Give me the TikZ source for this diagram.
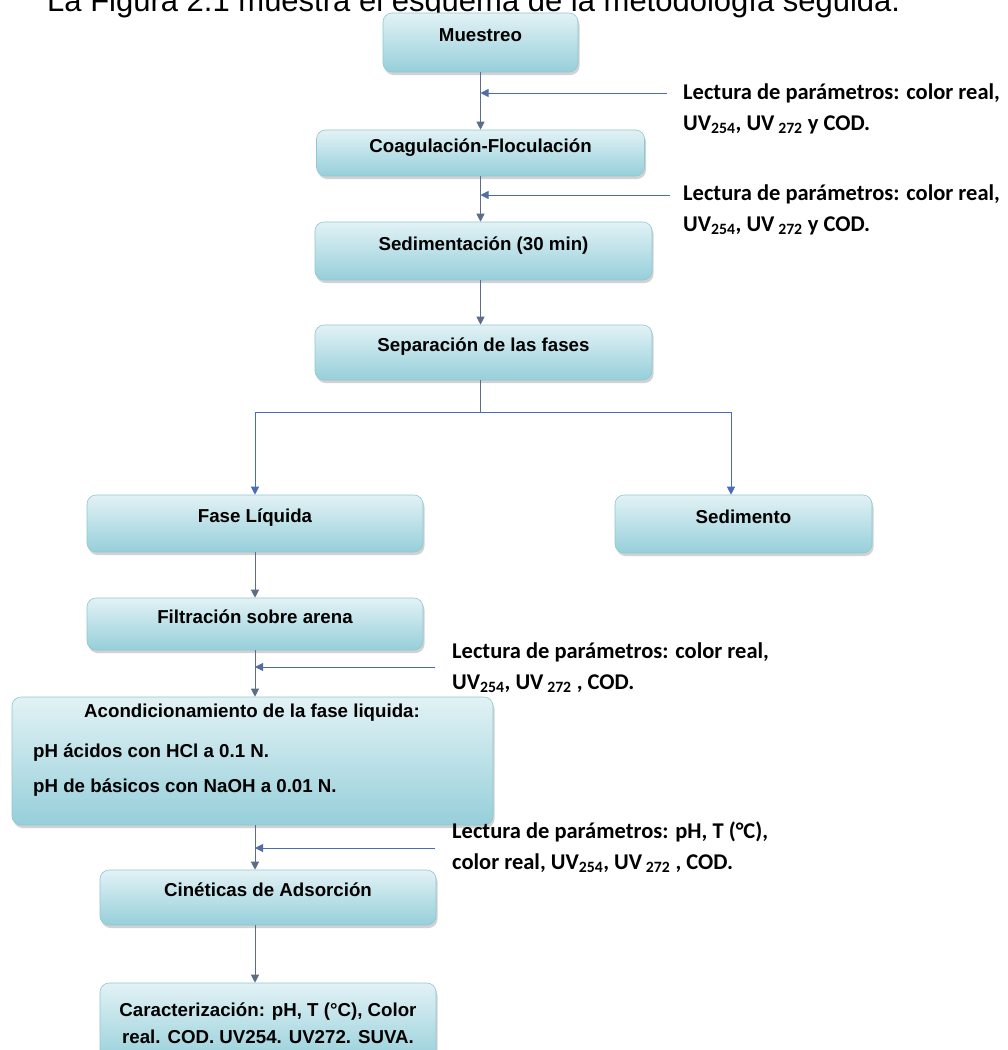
\documentclass[tikz,border=0pt]{standalone}
\usepackage{fontspec}
\setmainfont{Liberation Sans}
\newfontfamily\lecfont{Carlito}
\usetikzlibrary{arrows.meta,shadows}
\definecolor{boxtop}{HTML}{E2F2F5}
\definecolor{boxmid}{HTML}{C6E6EC}
\definecolor{boxbot}{HTML}{96CFDA}
\definecolor{boxedge}{HTML}{8FC7D2}
\definecolor{linegray}{HTML}{5C6D88}
\definecolor{lineblue}{HTML}{4A6DB5}
\tikzset{
  boxs/.style={rounded corners=9pt, draw=boxedge, line width=0.6pt,
    top color=boxtop, middle color=boxmid, bottom color=boxbot,
    drop shadow={shadow xshift=1.5pt, shadow yshift=-3pt, opacity=.35, fill=gray},
    inner sep=0pt, font=\fontsize{18.7}{27}\selectfont\bfseries},
  onel/.style={boxs, text height=13pt, text depth=15pt},
  btext/.style={inner sep=0pt, font=\fontsize{18.7}{27}\selectfont\bfseries},
  lec/.style={inner sep=0pt, anchor=base west, font=\lecfont\bfseries\fontsize{22.5}{31}\selectfont},
  arr/.style={draw=linegray, line width=0.9pt, -{Triangle[width=8pt,length=8pt]}},
  feed/.style={draw=lineblue, line width=0.9pt, -{Triangle[width=8pt,length=8pt,fill=linegray]}},
  vline/.style={draw=linegray, line width=0.9pt},
}
\begin{document}
\begin{tikzpicture}[x=1pt,y=-1pt]
\fill[white] (0,0) rectangle (1008,1050);
\useasboundingbox (0,0) rectangle (1008,1050);

% title line (cut at the top, as in the source page)
\node[inner sep=0pt, anchor=base west, font=\fontsize{31}{34}\selectfont] (title) at (47,11)
  {La Figura 2.1 muestra el esquema de la metodología seguida.};

% boxes
\node[onel, minimum width=195pt, minimum height=59pt] (mue) at (480.5,42.5) {Muestreo};
\node[onel, minimum width=328pt, minimum height=46pt] (coag) at (480.5,153) {Coagulación-Floculación};
\node[onel, minimum width=337pt, minimum height=58pt] (sed) at (483.5,251) {Sedimentación (30 min)};
\node[onel, minimum width=337pt, minimum height=55pt] (sep) at (483.5,352.5) {Separación de las fases};
\node[onel, minimum width=336pt, minimum height=57pt] (fase) at (255,523.5) {Fase Líquida};
\node[onel, minimum width=257pt, minimum height=58pt] (sedm) at (743.5,524) {Sedimento};
\node[onel, minimum width=336pt, minimum height=52pt] (filt) at (255,624) {Filtración sobre arena};
\node[boxs, minimum width=481pt, minimum height=128pt] (acond) at (252.5,761) {};
\node[btext] (ac1) at (252,713) {Acondicionamiento de la fase liquida:};
\node[btext, anchor=west] (ac2) at (33,753) {pH ácidos con HCl a 0.1 N.};
\node[btext, anchor=west] (ac3) at (33,788) {pH de básicos con NaOH a 0.01 N.};
\node[onel, minimum width=336pt, minimum height=55pt] (cin) at (268,897.5) {Cinéticas de Adsorción};
\node[boxs, align=center, minimum width=336pt, minimum height=80pt] (car) at (268,1023)
  {Caracterización: pH, T (°C), Color\\real. COD. UV254. UV272. SUVA.};

% labels
\node[lec] (lec1) at (683,99.5) {\begin{tabular}[t]{@{}l@{}}Lectura de parámetros: color real,\\UV\textsubscript{254}, UV\,\textsubscript{272} y COD.\end{tabular}};
\node[lec] (lec2) at (683,200) {\begin{tabular}[t]{@{}l@{}}Lectura de parámetros: color real,\\UV\textsubscript{254}, UV\,\textsubscript{272} y COD.\end{tabular}};
\node[lec] (lec3) at (452,658) {\begin{tabular}[t]{@{}l@{}}Lectura de parámetros: color real,\\UV\textsubscript{254}, UV\,\textsubscript{272} , COD.\end{tabular}};
\node[lec] (lec4) at (452,838) {\begin{tabular}[t]{@{}l@{}}Lectura de parámetros: pH, T (°C),\\color real, UV\textsubscript{254}, UV\,\textsubscript{272} , COD.\end{tabular}};

% main column
\draw[arr] (mue.south) -- (coag.north -| mue.south);
\draw[arr] (coag.south -| mue.south) -- (sed.north -| mue.south);
\draw[arr] (sed.south -| mue.south) -- (sep.north -| mue.south);
\coordinate (split) at (480.5,412);
\coordinate (rb) at (731,412);
\draw[vline] (sep.south -| mue.south) -- (split);
\draw[arr, draw=lineblue] (split) -| (fase.north);
\draw[arr, draw=lineblue] (split) -- (rb) -- (rb |- sedm.north);
\draw[arr] (fase.south) -- (filt.north);
\draw[arr] (filt.south) -- (acond.north -| filt.south);
\draw[arr] (acond.south -| filt.south) -- (cin.north -| filt.south);
\draw[arr] (cin.south -| filt.south) -- (car.north -| filt.south);

% feed arrows
\coordinate (f1) at (667,93);
\coordinate (f2) at (670,195);
\coordinate (f3) at (435,667);
\coordinate (f4) at (435,848);
\draw[feed] (f1) -- (f1 -| mue.south);
\draw[feed] (f2) -- (f2 -| mue.south);
\draw[feed] (f3) -- (f3 -| filt.south);
\draw[feed] (f4) -- (f4 -| filt.south);
\end{tikzpicture}
\end{document}
